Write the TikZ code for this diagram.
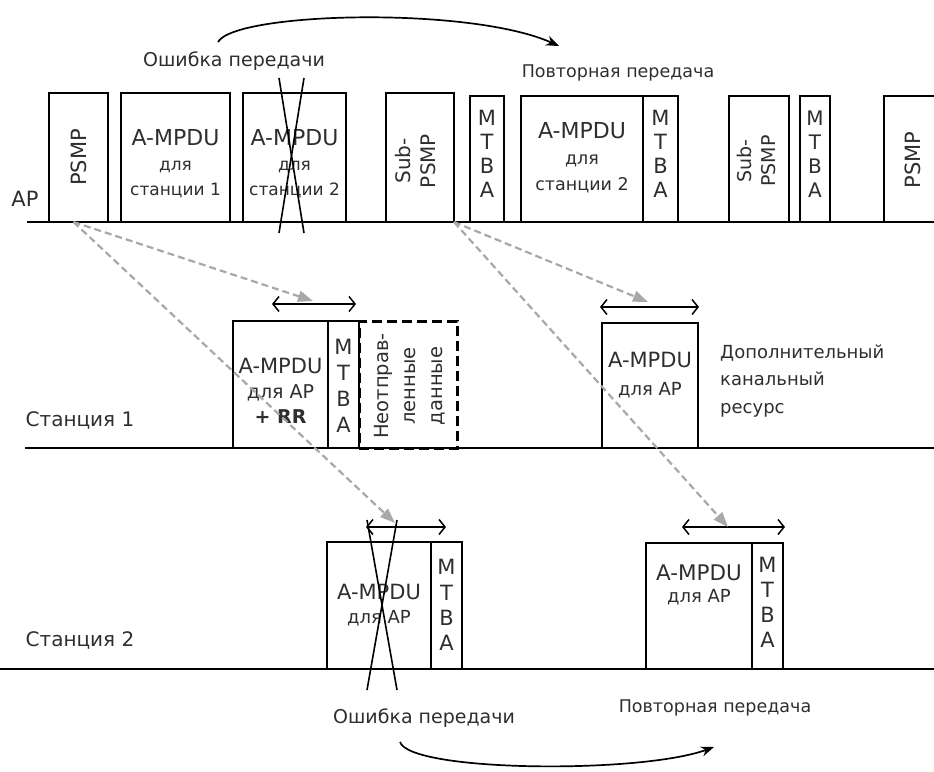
\documentclass[tikz,border=0pt]{standalone}
\usepackage{fontspec}
\setmainfont{DejaVu Sans}
\usetikzlibrary{arrows.meta}
\definecolor{txt}{gray}{0.18}
\definecolor{ptr}{gray}{0.66}
\begin{document}
\begin{tikzpicture}[x=1pt,y=-1pt,
  fr/.style={draw=black,line width=1.4pt,anchor=south west,inner sep=0pt,outer sep=0pt},
  dfr/.style={draw=black,line width=3pt,dash pattern=on 10pt off 5pt,anchor=south west,inner sep=0pt,outer sep=0pt},
  tx/.style={text=txt,inner sep=0pt,align=center,font=\fontsize{17}{25}\selectfont},
  mt/.style={text=txt,inner sep=0pt,align=center,font=\fontsize{21}{24}\selectfont},
  lab/.style={text=txt,inner sep=0pt},
  tl/.style={line width=1.5pt},
  ptrarrow/.style={draw=ptr,line width=2.2pt,dash pattern=on 7pt off 4pt,-{Triangle[length=15pt,width=11pt,fill=ptr]}},
  spanarrow/.style={line width=1.5pt,{Straight Barb[length=6pt,width=15pt]}-{Straight Barb[length=6pt,width=15pt]}},
  curvearrow/.style={line width=1.7pt,-{Stealth[length=13pt,width=10pt]}},
  xline/.style={line width=1.6pt}
]
\useasboundingbox (0,0) rectangle (934,771);
\clip (0,0) rectangle (934,771);

% ---------- AP row ----------
\draw[tl] (27,222) -- (934,222);
\node[lab,font=\fontsize{21}{24}\selectfont] (apl) at (25,199) {AP};

\node[fr,minimum width=59pt,minimum height=129pt] (psmp1) at (49,222) {};
\node[tx,font=\fontsize{21}{25}\selectfont] (psmp1t) at (psmp1.center) {\rotatebox{90}{PSMP}};

\node[fr,minimum width=109pt,minimum height=129pt] (a1) at (121,222) {};
\node[tx] (a1t) at (175.5,164) {{\fontsize{22}{25}\selectfont A-MPDU}\\для\\станции 1};

\node[fr,minimum width=103pt,minimum height=129pt] (a2) at (243,222) {};
\node[tx] (a2t) at (294.5,164) {{\fontsize{22}{25}\selectfont A-MPDU}\\для\\станции 2};

\node[fr,minimum width=68pt,minimum height=129pt] (sub1) at (386,222) {};
\node[tx,font=\fontsize{20}{25}\selectfont] (sub1t) at (418,161) {\rotatebox{90}{\begin{tabular}{@{}c@{}}Sub-\\PSMP\end{tabular}}};

\node[fr,minimum width=34pt,minimum height=126pt] (mtba1) at (470,222) {};
\node[mt] (mtba1t) at (487,154) {M\\T\\B\\A};

\node[fr,minimum width=122pt,minimum height=126pt] (a3) at (521,222) {};
\node[tx,font=\fontsize{17.5}{26}\selectfont] (a3t) at (582,158) {{\fontsize{22}{26}\selectfont A-MPDU}\\для\\станции 2};

\node[fr,minimum width=35pt,minimum height=126pt] (mtba2) at (643,222) {};
\node[mt] (mtba2t) at (660.5,154) {M\\T\\B\\A};

\node[fr,minimum width=60pt,minimum height=126pt] (sub2) at (729,222) {};
\node[tx,font=\fontsize{19}{24}\selectfont] (sub2t) at (759,161) {\rotatebox{90}{\begin{tabular}{@{}c@{}}Sub-\\PSMP\end{tabular}}};

\node[fr,minimum width=30pt,minimum height=126pt] (mtba3) at (800,222) {};
\node[mt,font=\fontsize{20}{24}\selectfont] (mtba3t) at (815,154) {M\\T\\B\\A};

\node[fr,minimum width=70pt,minimum height=126pt] (psmp2) at (884,222) {};
\node[tx,font=\fontsize{21}{25}\selectfont] (psmp2t) at (913,160) {\rotatebox{90}{PSMP}};

% cross on A-MPDU for station 2
\coordinate (c1a) at (279,78); \coordinate (c1b) at (304,233);
\coordinate (c1c) at (304,78); \coordinate (c1d) at (279,233);
\draw[xline] (c1a) -- (c1b);
\draw[xline] (c1c) -- (c1d);

\node[lab,font=\fontsize{19}{22}\selectfont] (err1) at (234,61) {Ошибка передачи};
\node[lab,font=\fontsize{17.5}{22}\selectfont] (rep1) at (618,73) {Повторная передача};
\coordinate (b1s) at (218,42); \coordinate (b1e) at (559,46);
\draw[curvearrow] (b1s) .. controls (235,12) and (470,6) .. (b1e);

% ---------- Station 1 ----------
\draw[tl] (25,448) -- (934,448);
\node[lab,font=\fontsize{20}{24}\selectfont] (st1) at (80,420) {Станция 1};

\node[fr,minimum width=95pt,minimum height=127pt] (s1a) at (233,448) {};
\node[tx,font=\fontsize{19}{25}\selectfont] (s1at) at (280.5,391) {{\fontsize{21}{25}\selectfont A-MPDU}\\для AP\\\textbf{+ RR}};
\node[fr,minimum width=31pt,minimum height=127pt] (s1m) at (328,448) {};
\node[mt,font=\fontsize{21}{26}\selectfont] (s1mt) at (343.5,386) {M\\T\\B\\A};
\node[dfr,minimum width=98pt,minimum height=127pt] (s1d) at (359,448) {};
\node[tx,font=\fontsize{19.5}{27}\selectfont] (s1dt) at (410,386) {\rotatebox{90}{\begin{tabular}{@{}c@{}}Неотправ-\\ленные\\данные\end{tabular}}};
\coordinate (sp1l) at (272,304); \coordinate (sp1r) at (356,304);
\draw[spanarrow] (sp1l) -- (sp1r);

\node[fr,minimum width=96pt,minimum height=125pt] (s1b) at (602,448) {};
\node[tx,font=\fontsize{18}{28}\selectfont] (s1bt) at (650,375) {{\fontsize{21}{28}\selectfont A-MPDU}\\для AP};
\coordinate (sp2l) at (600,307); \coordinate (sp2r) at (699,307);
\draw[spanarrow] (sp2l) -- (sp2r);
\node[lab,align=left,anchor=west,font=\fontsize{18}{27.5}\selectfont] (extra) at (720,381) {Дополнительный\\канальный\\ресурс};

% ---------- Station 2 ----------
\draw[tl] (0,669) -- (934,669);
\node[lab,font=\fontsize{20}{24}\selectfont] (st2) at (80,640) {Станция 2};

\node[fr,minimum width=104pt,minimum height=127pt] (s2a) at (327,669) {};
\node[tx,font=\fontsize{18}{24}\selectfont] (s2at) at (379,605) {{\fontsize{21}{24}\selectfont A-MPDU}\\для AP};
\node[fr,minimum width=31pt,minimum height=127pt] (s2m) at (431,669) {};
\node[mt,font=\fontsize{21}{25.3}\selectfont] (s2mt) at (446.5,605) {M\\T\\B\\A};
\coordinate (c2a) at (367,520); \coordinate (c2b) at (397,690);
\coordinate (c2c) at (397,520); \coordinate (c2d) at (367,690);
\draw[xline] (c2a) -- (c2b);
\draw[xline] (c2c) -- (c2d);
\coordinate (sp3l) at (366,527); \coordinate (sp3r) at (446,527);
\draw[spanarrow] (sp3l) -- (sp3r);

\node[fr,minimum width=106pt,minimum height=126pt] (s2b) at (646,669) {};
\node[tx,font=\fontsize{18}{22}\selectfont] (s2bt) at (699,585) {{\fontsize{21.5}{22}\selectfont A-MPDU}\\для AP};
\node[fr,minimum width=31pt,minimum height=126pt] (s2bm) at (752,669) {};
\node[mt,font=\fontsize{21}{25}\selectfont] (s2bmt) at (767.5,602.5) {M\\T\\B\\A};
\coordinate (sp4l) at (682,527); \coordinate (sp4r) at (785,527);
\draw[spanarrow] (sp4l) -- (sp4r);

\node[lab,font=\fontsize{19}{22}\selectfont] (err2) at (424,718) {Ошибка передачи};
\node[lab,font=\fontsize{17.5}{22}\selectfont] (rep2) at (715,708) {Повторная передача};
\coordinate (b2s) at (400,742); \coordinate (b2e) at (714,747);
\draw[curvearrow] (b2s) .. controls (410,772) and (640,774) .. (b2e);

% ---------- pointer arrows ----------
\coordinate (p1) at (313,301);
\coordinate (p2) at (395,523);
\coordinate (p3) at (648,302);
\coordinate (p4) at (728,527);
\draw[ptrarrow] ([xshift=-5pt]psmp1.south) -- (p1);
\draw[ptrarrow] ([xshift=-5pt]psmp1.south) -- (p2);
\draw[ptrarrow] (sub1.south east) -- (p3);
\draw[ptrarrow] (sub1.south east) -- (p4);
\end{tikzpicture}
\end{document}
